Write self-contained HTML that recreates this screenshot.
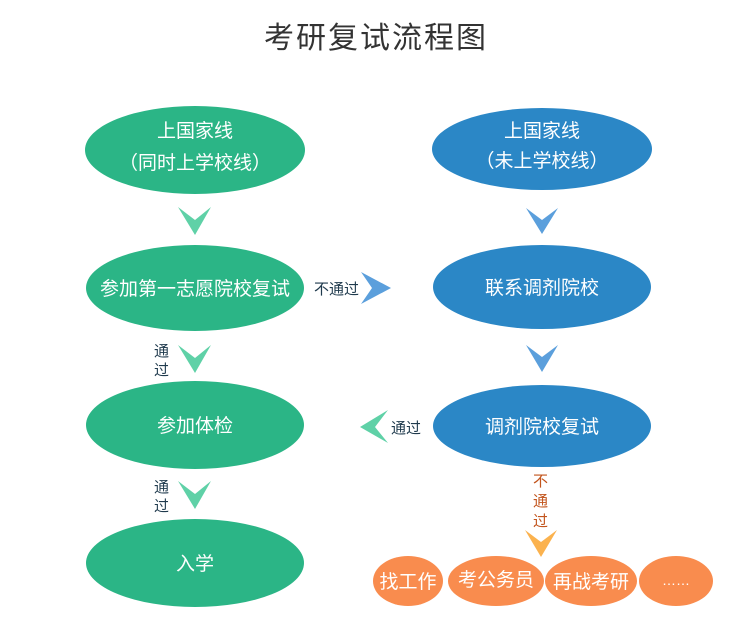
<!DOCTYPE html>
<html><head><meta charset="utf-8"><style>
html,body{margin:0;padding:0;background:#fff;}
svg{display:block;}
text{font-family:"Liberation Sans","Noto Sans CJK SC",sans-serif;}
</style></head><body>
<svg width="752" height="632" viewBox="0 0 752 632" xmlns="http://www.w3.org/2000/svg">
<text x="376" y="48" text-anchor="middle" font-size="30" fill="#333" letter-spacing="2">考研复试流程图</text>
<g fill="#2bb586">
<ellipse cx="195" cy="150" rx="110" ry="44"/>
<ellipse cx="195" cy="288" rx="109" ry="43"/>
<ellipse cx="195" cy="425" rx="109" ry="44"/>
<ellipse cx="195" cy="563" rx="109" ry="44"/>
</g>
<g fill="#2b87c6">
<ellipse cx="542" cy="149" rx="110" ry="41"/>
<ellipse cx="542" cy="287" rx="109" ry="42"/>
<ellipse cx="542" cy="426" rx="109" ry="41"/>
</g>
<g fill="#f98c4e">
<ellipse cx="408" cy="581" rx="35" ry="25"/>
<ellipse cx="496" cy="581" rx="48" ry="25"/>
<ellipse cx="591" cy="581" rx="46" ry="25"/>
<ellipse cx="676" cy="581" rx="37" ry="25"/>
</g>
<g fill="#5fd1a7">
<polygon points="178,207 195,235 211,207 195,220"/>
<polygon points="178,345 195,373 211,345 195,358"/>
<polygon points="178,481 195,509 211,481 195,494"/>
<polygon points="388,410 360,427 388,443 375,427"/>
</g>
<g fill="#5b9fdc">
<polygon points="526,208 542,234 558,208 542,220"/>
<polygon points="526,345 542,372 558,345 542,357"/>
<polygon points="361,272 391,288 361,304 372,288"/>
</g>
<polygon points="525,530 541,557 557,530 541,542" fill="#fbb24e"/>
<g fill="#fff" font-size="19" text-anchor="middle">
<text x="195" y="137">上国家线</text>
<text x="195" y="169">（同时上学校线）</text>
<text x="195" y="295">参加第一志愿院校复试</text>
<text x="195" y="432">参加体检</text>
<text x="195" y="570">入学</text>
<text x="542" y="137">上国家线</text>
<text x="542" y="167">（未上学校线）</text>
<text x="542" y="294">联系调剂院校</text>
<text x="542" y="433">调剂院校复试</text>
<text x="408" y="588">找工作</text>
<text x="496" y="586">考公务员</text>
<text x="591" y="588">再战考研</text>
<text x="676" y="585" font-size="14">……</text>
</g>
<g fill="#1f3a4d" font-size="15">
<text x="314" y="294">不通过</text>
<text x="154" y="356">通</text>
<text x="154" y="375">过</text>
<text x="154" y="492">通</text>
<text x="154" y="511">过</text>
<text x="391" y="433">通过</text>
</g>
<g fill="#c2541c" font-size="15">
<text x="533" y="486">不</text>
<text x="533" y="506">通</text>
<text x="533" y="526">过</text>
</g>
</svg>
</body></html>
